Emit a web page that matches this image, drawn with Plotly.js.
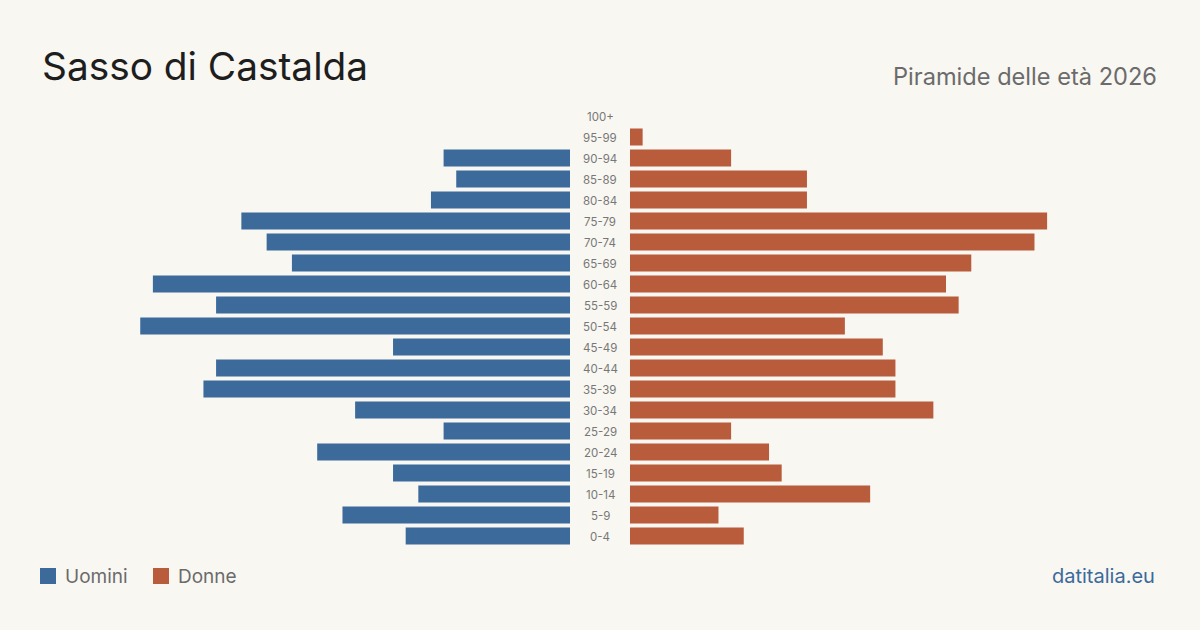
<!DOCTYPE html>
<html>
<head>
<meta charset="utf-8">
<script src="https://cdn.plot.ly/plotly-3.0.1.min.js"></script>
<style>
  html, body { margin: 0; padding: 0; background: #f9f7f2; }
  #chart { width: 1200px; height: 630px; }
</style>
</head>
<body>
<div id="chart"></div>
<script>
// Age classes, bottom to top
const ageGroups = ["0-4","5-9","10-14","15-19","20-24","25-29","30-34","35-39","40-44","45-49",
                   "50-54","55-59","60-64","65-69","70-74","75-79","80-84","85-89","90-94","95-99","100+"];
// Residents per age class
const men   = [13, 18, 12, 14, 20, 10, 17, 29, 28, 14, 34, 28, 33, 22, 24, 26, 11, 9, 10, 0, 0];
const women = [ 9,  7, 19, 12, 11,  8, 24, 21, 21, 20, 17, 26, 25, 27, 32, 33, 14, 14, 8, 1, 0];

const titleText = "Sasso di Castalda";
const subtitleText = "Piramide delle età 2026";
const sourceText = "datitalia.eu";
const seriesNames = ["Uomini", "Donne"];

const BLUE = "#3b6a9b";
const RUST = "#b95c3c";
const W = 1200, H = 630;
const px = v => v / W;
const py = v => 1 - v / H;
const FONT = "Inter, 'Noto Sans', sans-serif";

const axisMax = 41.93;

const traces = [
  {
    type: "bar", orientation: "h", name: seriesNames[0],
    y: ageGroups, x: men, xaxis: "x", yaxis: "y",
    marker: { color: BLUE }, hoverinfo: "skip"
  },
  {
    type: "bar", orientation: "h", name: seriesNames[1],
    y: ageGroups, x: women, xaxis: "x2", yaxis: "y",
    marker: { color: RUST }, hoverinfo: "skip"
  }
];

const annotations = [
  { text: titleText, x: px(40), y: py(66), xanchor: "left", yanchor: "middle",
    font: { family: FONT, size: 38.8, color: "#1e1e1e" } },
  { text: subtitleText, x: px(1159), y: py(76), xanchor: "right", yanchor: "middle",
    font: { family: FONT, size: 23.6, color: "#6b6b6b" } },
  { text: seriesNames[0], x: px(63), y: py(576), xanchor: "left", yanchor: "middle",
    font: { family: FONT, size: 19, color: "#6b6b6b" } },
  { text: seriesNames[1], x: px(176), y: py(576), xanchor: "left", yanchor: "middle",
    font: { family: FONT, size: 19, color: "#6b6b6b" } },
  { text: sourceText, x: px(1157), y: py(576), xanchor: "right", yanchor: "middle",
    font: { family: FONT, size: 20, color: BLUE } }
].map(a => Object.assign({ xref: "paper", yref: "paper", showarrow: false }, a));

// Age class labels between the two halves
ageGroups.forEach(g => annotations.push({
  text: g, xref: "paper", yref: "y", x: px(600), y: g, xanchor: "center", yanchor: "middle",
  yshift: -1, showarrow: false, font: { family: FONT, size: 11.5, color: "#777" }
}));

const shapes = [
  { type: "rect", xref: "paper", yref: "paper", x0: px(40), x1: px(56), y0: py(584), y1: py(568),
    fillcolor: BLUE, line: { width: 0 } },
  { type: "rect", xref: "paper", yref: "paper", x0: px(153), x1: px(169), y0: py(584), y1: py(568),
    fillcolor: RUST, line: { width: 0 } }
];

const layout = {
  width: W, height: H,
  margin: { l: 0, r: 0, t: 0, b: 0, pad: 0 },
  paper_bgcolor: "#f9f7f2", plot_bgcolor: "rgba(0,0,0,0)",
  showlegend: false,
  bargap: 4 / 21,
  xaxis: { domain: [px(40), px(570)], range: [axisMax, 0], anchor: "y",
           showgrid: false, zeroline: false, showticklabels: false, ticks: "", fixedrange: true },
  xaxis2: { domain: [px(630), px(1160)], range: [0, axisMax], anchor: "y",
            showgrid: false, zeroline: false, showticklabels: false, ticks: "", fixedrange: true },
  yaxis: { domain: [py(546.5), py(105.5)], type: "category", categoryorder: "array",
           categoryarray: ageGroups, range: [-0.5, ageGroups.length - 0.5],
           showgrid: false, zeroline: false, showticklabels: false, ticks: "", fixedrange: true },
  annotations: annotations,
  shapes: shapes
};

Plotly.newPlot("chart", traces, layout, { displayModeBar: false, staticPlot: true });
</script>
</body>
</html>
